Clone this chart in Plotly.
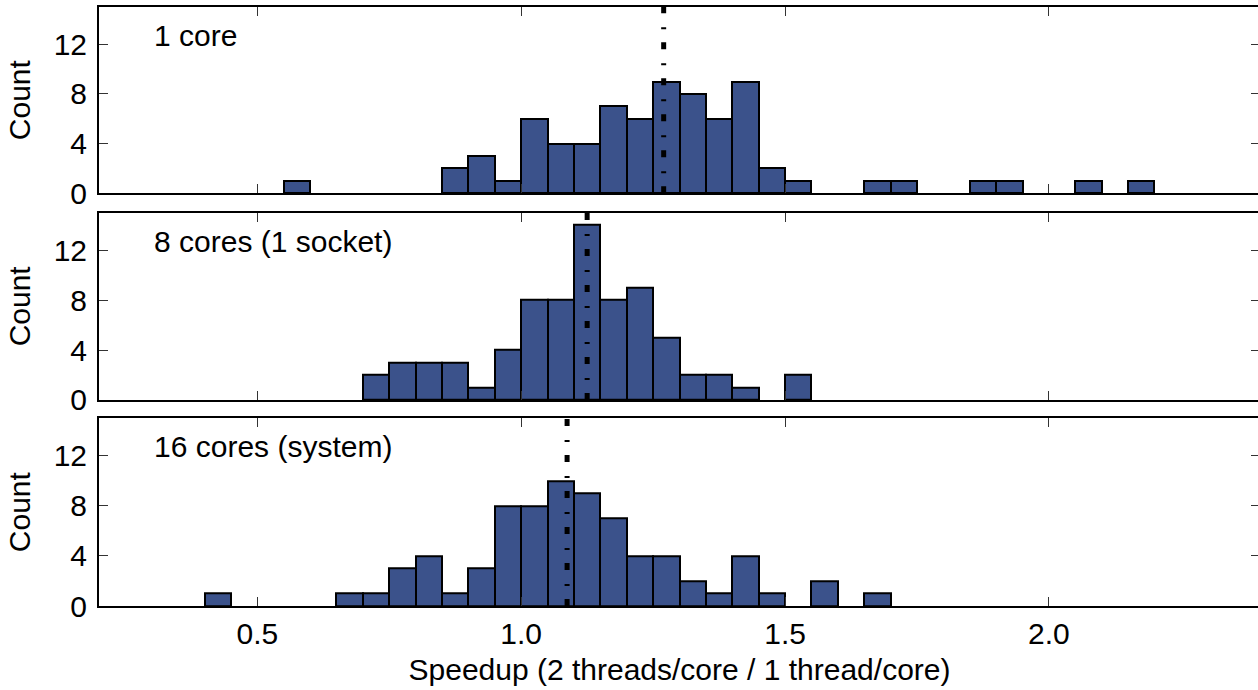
import plotly.graph_objects as go
from plotly.subplots import make_subplots

# bin left edges (width 0.05) and counts per panel
panel_labels = ['1 core', '8 cores (1 socket)', '16 cores (system)']

bins_1core = [0.55, 0.85, 0.90, 0.95, 1.00, 1.05, 1.10, 1.15, 1.20, 1.25, 1.30,
              1.35, 1.40, 1.45, 1.50, 1.65, 1.70, 1.85, 1.90, 2.05, 2.15]
counts_1core = [1, 2, 3, 1, 6, 4, 4, 7, 6, 9, 8, 6, 9, 2, 1, 1, 1, 1, 1, 1, 1]

bins_8cores = [0.70, 0.75, 0.80, 0.85, 0.90, 0.95, 1.00, 1.05, 1.10, 1.15, 1.20,
               1.25, 1.30, 1.35, 1.40, 1.50]
counts_8cores = [2, 3, 3, 3, 1, 4, 8, 8, 14, 8, 9, 5, 2, 2, 1, 2]

bins_16cores = [0.40, 0.65, 0.70, 0.75, 0.80, 0.85, 0.90, 0.95, 1.00, 1.05, 1.10,
                1.15, 1.20, 1.25, 1.30, 1.35, 1.40, 1.45, 1.55, 1.65]
counts_16cores = [1, 1, 1, 3, 4, 1, 3, 8, 8, 10, 9, 7, 4, 4, 2, 1, 4, 1, 2, 1]

medians = [1.27, 1.125, 1.087]

bin_width = 0.05
x_ticks = [0.5, 1.0, 1.5, 2.0]
y_ticks = [0, 4, 8, 12]

BAR_COLOR = '#3b528b'
FONT = 'Liberation Sans, Arial, Helvetica, sans-serif'
FSIZE = 30

panels = [(bins_1core, counts_1core), (bins_8cores, counts_8cores), (bins_16cores, counts_16cores)]

fig = make_subplots(rows=3, cols=1, shared_xaxes=True, vertical_spacing=0.03)

for i, (bins, counts) in enumerate(panels):
    row = i + 1
    fig.add_trace(go.Bar(x=bins, y=counts, width=bin_width, offset=0,
                         marker=dict(color=BAR_COLOR, line=dict(color='black', width=2)),
                         showlegend=False), row=row, col=1)
    fig.add_trace(go.Scatter(x=[medians[i], medians[i]], y=[0, 15], mode='lines',
                             line=dict(color='black', width=5, dash='7px,13px,2px,14px'),
                             showlegend=False), row=row, col=1)
    fig.add_annotation(text=panel_labels[i], xref=f'x{row if row > 1 else ""} domain',
                       yref=f'y{row if row > 1 else ""} domain', x=0.046, y=0.848,
                       xanchor='left', yanchor='middle', showarrow=False,
                       font=dict(family=FONT, size=FSIZE, color='black'))

domains = [[0.689, 1.0], [0.344, 0.6566], [0.0, 0.3134]]

axis_style = dict(showline=True, linecolor='black', linewidth=2, mirror='ticks',
                  ticks='inside', ticklen=9, tickwidth=1, tickcolor='#333',
                  showgrid=False, zeroline=False, automargin=False,
                  tickfont=dict(family=FONT, size=FSIZE, color='black'))

for i in range(3):
    n = '' if i == 0 else str(i + 1)
    fig.layout[f'yaxis{n}'].update(domain=domains[i], range=[0, 15], tickvals=y_ticks,
                                   ticklabelstandoff=4,
                                   title=dict(text='Count', standoff=14,
                                              font=dict(family=FONT, size=FSIZE, color='black')),
                                   **axis_style)
    fig.layout[f'xaxis{n}'].update(range=[0.2, 2.4], tickvals=x_ticks,
                                   ticktext=['0.5', '1.0', '1.5', '2.0'], **axis_style)

fig.layout['xaxis3'].update(title=dict(text='Speedup (2 threads/core / 1 thread/core)', standoff=10,
                                       font=dict(family=FONT, size=FSIZE, color='black')))

# the reference's right spine sits just past the picture edge, so the figure is 2px wider
fig.update_layout(width=1260, height=690, margin=dict(l=99, r=0, t=7, b=84),
                  plot_bgcolor='white', paper_bgcolor='white', bargap=0,
                  font=dict(family=FONT, size=FSIZE, color='black'))

# drop the default page margin so the figure sits at the window's top-left corner
fig.write_html('out.html', config={'displayModeBar': False},
               post_script="document.body.style.margin='0';document.body.style.overflow='hidden';")
